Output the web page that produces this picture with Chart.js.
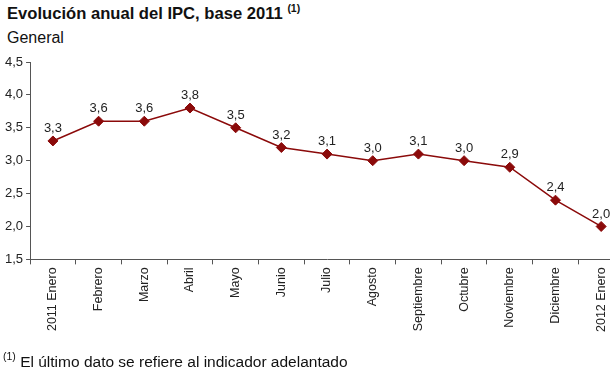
<!DOCTYPE html>
<html>
<head>
<meta charset="utf-8">
<script src="https://cdn.jsdelivr.net/npm/chart.js@4"></script>
<style>
  html, body { margin: 0; padding: 0; background: #fff; overflow: hidden; width: 610px; height: 374px; }
  body { position: relative; font-family: 'Liberation Sans', Arial, sans-serif; color: #222; }
  #wrap { position: absolute; left: 0; top: 0; width: 630px; height: 374px; }
  .title { position: absolute; left: 7px; top: 4px; font-size: 16.6px; font-weight: bold; color: #111; white-space: nowrap; }
  .title sup, .note sup { font-size: 10.5px; vertical-align: 0; position: relative; top: -7px; }
  .sub { position: absolute; left: 7px; top: 29px; font-size: 16px; color: #111; }
  .note { position: absolute; left: 3px; top: 353px; font-size: 15.5px; color: #111; white-space: nowrap; }
</style>
</head>
<body>
<div class="title">Evolución anual del IPC, base 2011 <sup>(1)</sup></div>
<div class="sub">General</div>
<div id="wrap"><canvas id="ipcChart"></canvas></div>
<div class="note"><sup>(1)</sup> El último dato se refiere al indicador adelantado</div>
<script>
// Monthly annual CPI rate
const months = ['2011 Enero', 'Febrero', 'Marzo', 'Abril', 'Mayo', 'Junio', 'Julio',
  'Agosto', 'Septiembre', 'Octubre', 'Noviembre', 'Diciembre', '2012 Enero'];
const ipcValues = [3.3, 3.6, 3.6, 3.8, 3.5, 3.2, 3.1, 3.0, 3.1, 3.0, 2.9, 2.4, 2.0];
const yTicks = [1.5, 2.0, 2.5, 3.0, 3.5, 4.0, 4.5];

const lineColor = '#8b0a0a';
const fmt = v => v.toFixed(1).replace('.', ',');

// draws the value above each point
const valueLabels = {
  id: 'valueLabels',
  afterDatasetsDraw(chart) {
    const ctx = chart.ctx;
    const meta = chart.getDatasetMeta(0);
    ctx.save();
    ctx.font = '13px "Liberation Sans", Arial, sans-serif';
    ctx.fillStyle = '#222';
    ctx.textAlign = 'center';
    ctx.textBaseline = 'bottom';
    meta.data.forEach((pt, i) => {
      ctx.fillText(fmt(ipcValues[i]), pt.x, pt.y - 6);
    });
    ctx.restore();
  }
};

const ctx = document.getElementById('ipcChart').getContext('2d');
new Chart(ctx, {
  type: 'line',
  data: {
    labels: months,
    datasets: [{
      data: ipcValues,
      borderColor: lineColor,
      backgroundColor: lineColor,
      borderWidth: 1.5,
      tension: 0,
      pointStyle: 'rectRot',
      pointRadius: 5,
      pointBackgroundColor: lineColor,
      pointBorderColor: lineColor,
      pointBorderWidth: 1
    }]
  },
  options: {
    responsive: true,
    maintainAspectRatio: false,
    animation: false,
    layout: { padding: { top: 62, left: 2, right: 0, bottom: 39 } },
    plugins: {
      legend: { display: false },
      tooltip: { enabled: false }
    },
    scales: {
      x: {
        offset: true,
        grid: {
          display: true,
          offset: true,
          drawOnChartArea: false,
          drawTicks: true,
          tickLength: 5,
          color: '#555'
        },
        border: { display: true, color: '#555', width: 1 },
        ticks: {
          color: '#222',
          minRotation: 90,
          maxRotation: 90,
          autoSkip: false,
          padding: 3,
          font: { family: 'Liberation Sans', size: 12.5 }
        }
      },
      y: {
        min: 1.5,
        max: 4.5,
        afterBuildTicks: axis => { axis.ticks = yTicks.map(v => ({ value: v })); },
        grid: {
          display: true,
          drawOnChartArea: false,
          drawTicks: true,
          tickLength: 4,
          color: '#555'
        },
        border: { display: true, color: '#555', width: 1 },
        ticks: {
          color: '#222',
          padding: 3,
          font: { family: 'Liberation Sans', size: 13 },
          callback: value => fmt(value)
        }
      }
    }
  },
  plugins: [valueLabels]
});
</script>
</body>
</html>
